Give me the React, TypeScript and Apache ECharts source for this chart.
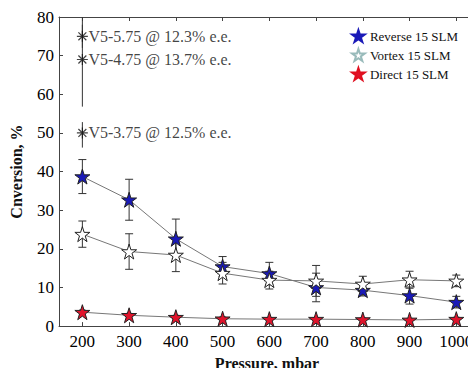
import React, { useEffect, useRef } from "react";
import * as echarts from "echarts";

const pressures = [200, 300, 400, 500, 600, 700, 800, 900, 1000];
const reverse = [38.7, 32.7, 22.6, 15.4, 13.6, 10.0, 9.3, 7.9, 6.2];
const reverseErr = [4.4, 5.3, 5.1, 2.6, 2.9, 3.7, 1.5, 2.2, 1.5];
const vortex = [23.8, 19.3, 18.4, 13.7, 11.9, 11.7, 10.9, 12.0, 11.7];
const vortexErr = [3.4, 4.6, 4.3, 2.8, 2.3, 4.0, 2.0, 2.2, 1.5];
const direct = [3.6, 2.8, 2.3, 1.9, 1.8, 1.8, 1.7, 1.6, 1.8];
const directErr = [0.6, 0.5, 0.5, 0.5, 0.4, 0.4, 0.4, 0.4, 0.5];

const annotX = [200, 200, 200];
const annotY = [75, 69, 50];
const annotLow = [72, 56.8, 46.2];
const annotHigh = [78, 81.5, 52.8];
const annotLabels = ["V5-5.75 @ 12.3% e.e.", "V5-4.75 @ 13.7% e.e.", "V5-3.75 @ 12.5% e.e."];

const xTicks = [200, 300, 400, 500, 600, 700, 800, 900, 1000];

const STAR =
  "path://M0,-10L2.245,-3.09L9.511,-3.09L3.633,1.18L5.878,8.09L0,3.82L-5.878,8.09L-3.633,1.18L-9.511,-3.09L-2.245,-3.09Z";
const ASTER = "path://M0,-5L0,5M-5,0L5,0M-3.6,-3.6L3.6,3.6M-3.6,3.6L3.6,-3.6";
const FONT = "'Liberation Serif', 'Times New Roman', serif";

function errData(vals: number[], errs: number[]) {
  return pressures.map((p, i) => [p, vals[i] - errs[i], vals[i] + errs[i]]);
}

function errorSeries(data: number[][], cap: number, name: string) {
  return {
    type: "custom",
    name,
    clip: true,
    z: 2,
    silent: true,
    data,
    renderItem: (params: any, api: any) => {
      const x = api.value(0);
      const lo = api.coord([x, api.value(1)]);
      const hi = api.coord([x, api.value(2)]);
      const style = { stroke: "#333", lineWidth: 1 };
      const children: any[] = [
        { type: "line", shape: { x1: lo[0], y1: lo[1], x2: hi[0], y2: hi[1] }, style },
      ];
      if (cap > 0) {
        children.push(
          { type: "line", shape: { x1: lo[0] - cap, y1: lo[1], x2: lo[0] + cap, y2: lo[1] }, style },
          { type: "line", shape: { x1: hi[0] - cap, y1: hi[1], x2: hi[0] + cap, y2: hi[1] }, style }
        );
      }
      return { type: "group", children };
    },
  };
}

export default function App() {
  const ref = useRef<HTMLDivElement>(null);
  useEffect(() => {
    if (!ref.current) return;
    const chart = echarts.init(ref.current, null, { renderer: "svg" });
    const lineSeries = (name: string, vals: number[], fill: string) => ({
      type: "line",
      name,
      data: pressures.map((p, i) => [p, vals[i]]),
      symbol: STAR,
      symbolSize: 15,
      z: 3,
      lineStyle: { color: "#777", width: 1 },
      itemStyle: { color: fill, borderColor: "#222", borderWidth: 1 },
    });
    chart.setOption({
      animation: false,
      backgroundColor: "#fff",
      textStyle: { fontFamily: FONT },
      grid: { left: 51, right: 1, top: 17, bottom: 39 },
      legend: {
        right: 14,
        top: 27,
        orient: "vertical",
        itemWidth: 13,
        itemHeight: 12,
        itemGap: 5,
        backgroundColor: "#fff",
        padding: [2, 4, 2, 4],
        textStyle: { fontFamily: FONT, fontSize: 13, color: "#111" },
        data: [
          { name: "Reverse 15 SLM", icon: STAR, itemStyle: { borderColor: "#1a1ab8" } },
          { name: "Vortex 15 SLM", icon: STAR, itemStyle: { borderColor: "#9bb" } },
          { name: "Direct 15 SLM", icon: STAR, itemStyle: { borderColor: "#e01020" } },
        ],
      },
      xAxis: [
        {
          type: "value",
          min: 150,
          max: 1040,
          name: "Pressure, mbar",
          nameLocation: "middle",
          nameGap: 24,
          nameTextStyle: { fontFamily: FONT, fontSize: 16, fontWeight: "bold", color: "#111" },
          axisLine: { show: true, lineStyle: { color: "#444", width: 1 } },
          axisTick: { show: true, inside: true, length: 4, customValues: xTicks, lineStyle: { color: "#444" } },
          axisLabel: {
            customValues: xTicks,
            formatter: (v: number) => String(v),
            fontFamily: FONT,
            fontSize: 17,
            color: "#000",
            margin: 7,
          },
          splitLine: { show: false },
        },
        {
          type: "value",
          position: "top",
          min: 150,
          max: 1040,
          axisLine: { show: true, onZero: false, lineStyle: { color: "#444", width: 1 } },
          axisTick: { show: true, inside: true, length: 4, customValues: xTicks, lineStyle: { color: "#444" } },
          axisLabel: { show: false },
          splitLine: { show: false },
        },
      ],
      yAxis: [
        {
          type: "value",
          min: 0,
          max: 80,
          interval: 10,
          name: "Cnversion, %",
          nameLocation: "middle",
          nameGap: 35,
          nameTextStyle: { fontFamily: FONT, fontSize: 16, fontWeight: "bold", color: "#111" },
          axisLine: { show: true, lineStyle: { color: "#444", width: 1 } },
          axisTick: { show: true, inside: true, length: 4, lineStyle: { color: "#444" } },
          axisLabel: { fontFamily: FONT, fontSize: 17, color: "#000", margin: 5 },
          splitLine: { show: false },
        },
        {
          type: "value",
          position: "right",
          min: 0,
          max: 80,
          interval: 10,
          axisLine: { show: true, onZero: false, lineStyle: { color: "#444", width: 1 } },
          axisTick: { show: true, inside: true, length: 4, lineStyle: { color: "#444" } },
          axisLabel: { show: false },
          splitLine: { show: false },
        },
      ],
      series: [
        errorSeries(errData(reverse, reverseErr), 4, "errR"),
        errorSeries(errData(vortex, vortexErr), 4, "errV"),
        errorSeries(errData(direct, directErr), 3, "errD"),
        errorSeries(annotX.map((x, i) => [x, annotLow[i], annotHigh[i]]), 0, "errA"),
        lineSeries("Reverse 15 SLM", reverse, "#1a1ab8"),
        lineSeries("Vortex 15 SLM", vortex, "#ffffff"),
        lineSeries("Direct 15 SLM", direct, "#e0142c"),
        {
          type: "scatter",
          name: "annot",
          data: annotX.map((x, i) => [x, annotY[i], annotLabels[i]]),
          symbol: ASTER,
          symbolSize: 11,
          z: 4,
          itemStyle: { color: "transparent", borderColor: "#111", borderWidth: 1.2 },
          label: {
            show: true,
            position: "right",
            distance: 0,
            formatter: (p: any) => p.value[2],
            fontFamily: FONT,
            fontSize: 16,
            color: "#111",
          },
        },
      ],
    });
    return () => chart.dispose();
  }, []);
  return <div ref={ref} style={{ width: 476, height: 376, margin: -8 }} />;
}
